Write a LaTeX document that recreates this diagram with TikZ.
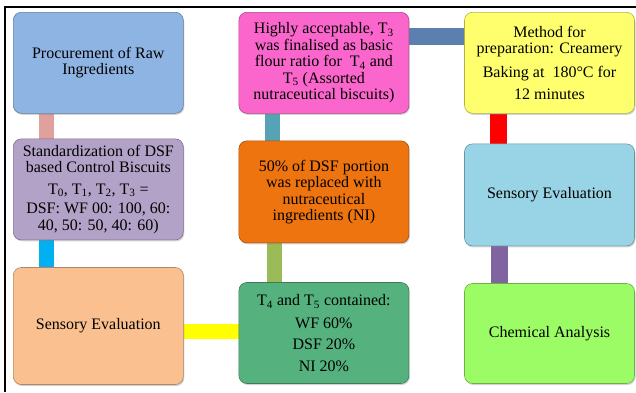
\documentclass[tikz,border=0pt]{standalone}
\usepackage{fontspec}
\setmainfont{Liberation Serif}
\usetikzlibrary{positioning, shadows, backgrounds}

\definecolor{procblue}{HTML}{8DB4E2}
\definecolor{stdpurple}{HTML}{B3A2C7}
\definecolor{sensorange}{HTML}{FAC090}
\definecolor{acceptpink}{HTML}{FA66CC}
\definecolor{replorange}{HTML}{EE7410}
\definecolor{contgreen}{HTML}{55B27E}
\definecolor{methyellow}{HTML}{FFFF6E}
\definecolor{senscyan}{HTML}{99D4E6}
\definecolor{chemlime}{HTML}{9CFC66}
\definecolor{barpink}{HTML}{E0A09C}
\definecolor{barcyan}{HTML}{00B0F0}
\definecolor{baryellow}{HTML}{FFFF00}
\definecolor{barteal}{HTML}{55A3B4}
\definecolor{barolive}{HTML}{9BBB59}
\definecolor{barsteel}{HTML}{5B7FAE}
\definecolor{barred}{HTML}{FF0000}
\definecolor{barpurple}{HTML}{8064A2}

\begin{document}
\begin{tikzpicture}[
    x=1pt, y=-1pt,
    box/.style   = {draw=#1!70!black, fill=#1, rounded corners=8pt,
                    minimum width=170pt, minimum height=101pt,
                    inner sep=1pt, align=center, line width=0.6pt,
                    font=\fontsize{16}{16.5}\selectfont,
                    drop shadow={shadow xshift=1pt, shadow yshift=-1.5pt,
                                 opacity=0.35}},
    bar/.style   = {line width=15pt, draw=#1},
]
\useasboundingbox (0,0) rectangle (636,392);

%% Frame
\draw[line width=1.2pt] (636,7) -- (5,7) -- (5,392);

%% Column 1
\node[box=procblue, anchor=north west] (proc) at (13,12)
    {Procurement of Raw\\ Ingredients};
\node[box=stdpurple, below=25pt of proc] (std)
    {Standardization of DSF\\ based Control Biscuits\\[5pt]
     T\textsubscript{0}, T\textsubscript{1}, T\textsubscript{2}, T\textsubscript{3} =\\[3pt]
     DSF: WF 00: 100, 60:\\ 40, 50: 50, 40: 60)};
\node[box=sensorange, minimum height=117pt, below=27pt of std] (sens1)
    {Sensory Evaluation};

%% Column 2
\node[box=acceptpink, right=55pt of proc] (accept)
    {Highly acceptable, T\textsubscript{3}\\ was finalised as basic\\
     flour ratio for~ T\textsubscript{4} and\\ T\textsubscript{5} (Assorted\\
     nutraceutical biscuits)};
\node[box=replorange, minimum height=102pt, below=27pt of accept] (repl)
    {50\% of DSF portion\\ was replaced with\\ nutraceutical\\ ingredients (NI)};
\node[box=contgreen, below=39pt of repl] (cont)
    {T\textsubscript{4} and T\textsubscript{5} contained:\\[6pt]
     WF 60\%\\[5pt] DSF 20\%\\[5pt] NI 20\%};

%% Column 3
\node[box=methyellow, right=55pt of accept] (meth)
    {Method for\\ preparation: Creamery\\[7pt]
     Baking at~ 180°C for\\[6pt] 12 minutes};
\node[box=senscyan, minimum height=102pt, below=30pt of meth] (sens2)
    {Sensory Evaluation};
\node[box=chemlime, minimum height=100pt, below=37pt of sens2] (chem)
    {Chemical Analysis};

%% Connectors
\begin{scope}[on background layer]
  \draw[bar=barpink]   ([xshift=33.5pt]proc.south west)   -- ([xshift=33.5pt]std.north west);
  \draw[bar=barcyan]   ([xshift=33.5pt]std.south west)    -- ([xshift=33.5pt]sens1.north west);
  \draw[bar=baryellow] ([yshift=-5.5pt]sens1.east)        -- ([yshift=-5.5pt]sens1.east -| cont.west);
  \draw[bar=barteal]   ([xshift=34pt]accept.south west)   -- ([xshift=34pt]repl.north west);
  \draw[bar=barolive]  ([xshift=35.5pt]repl.south west)   -- ([xshift=35.5pt]cont.north west);
  \draw[line width=17pt, draw=barsteel]
                       ([yshift=26pt]accept.east)          -- ([yshift=26pt]accept.east -| meth.west);
  \draw[line width=17pt, draw=barred]
                       ([xshift=34.5pt]meth.south west)   -- ([xshift=34.5pt]sens2.north west);
  \draw[line width=17pt, draw=barpurple]
                       ([xshift=35.5pt]sens2.south west)  -- ([xshift=35.5pt]chem.north west);
\end{scope}

\end{tikzpicture}
\end{document}
